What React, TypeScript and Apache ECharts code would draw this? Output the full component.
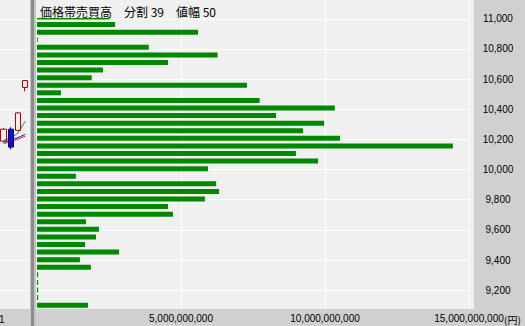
import React, { useEffect, useRef } from "react";
import * as echarts from "echarts";

// Price bins (top to bottom), width 50, 39 bins
const PRICE_BINS = [
  11000, 10950, 10900, 10850, 10800, 10750, 10700, 10650, 10600, 10550,
  10500, 10450, 10400, 10350, 10300, 10250, 10200, 10150, 10100, 10050,
  10000, 9950, 9900, 9850, 9800, 9750, 9700, 9650, 9600, 9550,
  9500, 9450, 9400, 9350, 9300, 9250, 9200, 9150, 9100,
];
// Traded value (yen) per price bin
const VOLUMES = [
  2.52e9, 2.71e9, 5.59e9, 0.03e9, 3.88e9, 6.27e9, 4.55e9, 2.29e9, 1.9e9, 7.29e9,
  0.83e9, 7.73e9, 10.34e9, 8.3e9, 9.97e9, 9.24e9, 10.52e9, 14.44e9, 8.99e9, 9.76e9,
  5.94e9, 1.35e9, 6.22e9, 6.32e9, 5.83e9, 4.55e9, 4.72e9, 1.7e9, 2.15e9, 2.05e9,
  1.67e9, 2.85e9, 1.49e9, 1.87e9, 0.04e9, 0.04e9, 0.04e9, 0.04e9, 1.77e9,
];
const PRICE_TICKS = [9200, 9400, 9600, 9800, 10000, 10200, 10400, 10600, 10800, 11000];
const VALUE_TICKS = [0, 5e9, 10e9, 15e9];

// Small price chart on the left (last candles): [open, close, low, high]
const CANDLE_DAYS = ["d1", "d2", "d3", "d4", "d5"];
const CANDLES = [
  [10189, 10268, 10180, 10275],
  [10268, 10149, 10134, 10281],
  [10260, 10376, 10255, 10380],
  [10545, 10591, 10519, 10591],
];
const MA_GREEN = [10195, 10209, 10242, 10321];
const MA_RED = [10172, 10186, 10202, 10222];
const MA_BLUE = [10182, 10196, 10212, 10234];

const TITLE = "価格帯売買高　分割 39　値幅 50";
const UNIT = "(円)";

const fmt = (v: number) => Math.round(v).toLocaleString("en-US");

export default function App() {
  const ref = useRef<HTMLDivElement>(null);
  useEffect(() => {
    if (!ref.current) return;
    const chart = echarts.init(ref.current, null, { renderer: "svg" });
    const numFont = "Liberation Sans";
    const priceMin = 9075;
    const priceMax = 11125;
    const gridTop = -2;
    const gridH = 311;
    const pxPer = gridH / (priceMax - priceMin);
    const barTop = gridTop + (priceMax - (PRICE_BINS[0] + 25)) * pxPer;
    const barBottomY = gridTop + gridH;

    const priceAxisBase = {
      type: "value",
      min: priceMin,
      max: priceMax,
      axisLine: { show: false },
      axisTick: { show: false, customValues: PRICE_TICKS },
      splitLine: { show: true, lineStyle: { color: "#ffffff", width: 1 } },
    };

    chart.setOption({
      animation: false,
      backgroundColor: "#f0f0f0",
      title: {
        text: TITLE,
        left: 37,
        top: 0,
        padding: [4, 3, 0, 3],
        backgroundColor: "#f0f0f0",
        textStyle: {
          fontFamily: "Noto Sans CJK JP",
          fontSize: 12,
          lineHeight: 14,
          fontWeight: "normal",
          color: "#000000",
        },
      },
      grid: [
        { left: 37, top: gridTop, width: 432, height: gridH },
        { left: 37, top: barTop, width: 432, height: barBottomY - barTop },
        { left: -4, top: gridTop, width: 40, height: gridH },
      ],
      xAxis: [
        {
          gridIndex: 0,
          type: "value",
          min: VALUE_TICKS[0],
          max: VALUE_TICKS[VALUE_TICKS.length - 1],
          interval: VALUE_TICKS[1],
          axisLine: { show: false },
          axisTick: { show: false },
          splitLine: { show: true, lineStyle: { color: "#ffffff", width: 1 } },
          axisLabel: {
            showMinLabel: false,
            margin: 4,
            fontFamily: numFont,
            fontSize: 10,
            color: "#000000",
            formatter: (v: number) => fmt(v),
          },
        },
        {
          gridIndex: 1,
          type: "value",
          min: VALUE_TICKS[0],
          max: VALUE_TICKS[VALUE_TICKS.length - 1],
          show: false,
        },
        {
          gridIndex: 2,
          type: "category",
          data: CANDLE_DAYS,
          show: false,
        },
      ],
      yAxis: [
        {
          ...priceAxisBase,
          gridIndex: 0,
          position: "right",
          axisLabel: {
            customValues: PRICE_TICKS,
            margin: 29,
            align: "center",
            fontFamily: numFont,
            fontSize: 10,
            color: "#000000",
            formatter: (v: number) => fmt(v),
          },
        },
        {
          gridIndex: 1,
          type: "category",
          inverse: true,
          data: PRICE_BINS.map(String),
          show: false,
        },
        {
          ...priceAxisBase,
          gridIndex: 2,
          axisLabel: { show: false, customValues: PRICE_TICKS },
        },
      ],
      series: [
        {
          type: "bar",
          xAxisIndex: 1,
          yAxisIndex: 1,
          data: VOLUMES,
          barWidth: 5,
          itemStyle: { color: "#008800" },
          silent: true,
        },
        {
          type: "line",
          xAxisIndex: 2,
          yAxisIndex: 2,
          data: MA_GREEN,
          symbol: "none",
          lineStyle: { color: "#20a020", width: 1 },
          z: 1,
        },
        {
          type: "line",
          xAxisIndex: 2,
          yAxisIndex: 2,
          data: MA_RED,
          symbol: "none",
          lineStyle: { color: "#d02020", width: 1 },
          z: 1,
        },
        {
          type: "line",
          xAxisIndex: 2,
          yAxisIndex: 2,
          data: MA_BLUE,
          symbol: "none",
          lineStyle: { color: "#2020d0", width: 1 },
          z: 1,
        },
        {
          type: "candlestick",
          xAxisIndex: 2,
          yAxisIndex: 2,
          data: CANDLES,
          barWidth: 6,
          itemStyle: {
            color: "rgba(0,0,0,0)",
            color0: "#1414b4",
            borderColor: "#b00000",
            borderColor0: "#000090",
            borderWidth: 1,
          },
          z: 3,
        },
      ],
      graphic: [
        {
          type: "rect",
          z: -1,
          shape: { x: 474, y: 0, width: 51, height: 326 },
          style: { fill: "#d0d0d0" },
        },
        {
          type: "rect",
          z: -1,
          shape: { x: 0, y: 309, width: 525, height: 17 },
          style: { fill: "#d0d0d0" },
        },
        {
          type: "rect",
          z: 100,
          shape: { x: 30, y: 0, width: 6, height: 326 },
          style: { fill: "#c4c4c4" },
        },
        {
          type: "rect",
          z: 101,
          shape: { x: 31, y: 0, width: 3, height: 326 },
          style: { fill: "#8c8c8c" },
        },
        {
          type: "text",
          z: 10,
          x: 504,
          y: 314,
          style: {
            text: UNIT,
            font: "10px 'Noto Sans CJK JP'",
            fill: "#000000",
          },
        },
        {
          type: "text",
          z: 10,
          x: -1,
          y: 314,
          style: {
            text: "1",
            font: `10px '${numFont}'`,
            fill: "#000000",
          },
        },
      ],
    });
    return () => chart.dispose();
  }, []);
  return (
    <div
      ref={ref}
      style={{ position: "fixed", left: 0, top: 0, width: 525, height: 326 }}
    />
  );
}
